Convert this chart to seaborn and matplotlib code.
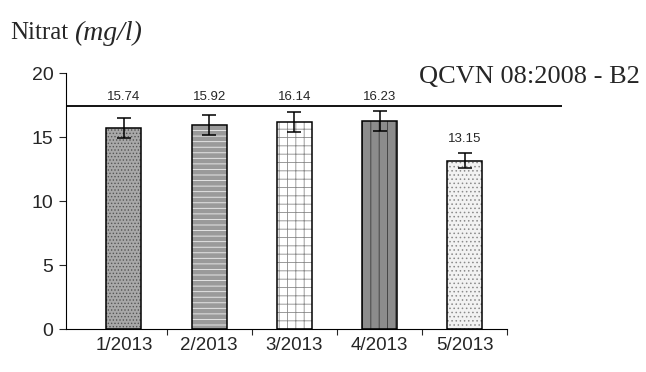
import matplotlib
matplotlib.use("Agg")
import matplotlib.pyplot as plt
from matplotlib.patches import Rectangle
import pandas as pd
import seaborn as sns

# Nitrat theo thang
thang = ["1/2013", "2/2013", "3/2013", "4/2013", "5/2013"]
nitrat = [15.74, 15.92, 16.14, 16.23, 13.15]
sai_so = [0.78, 0.78, 0.78, 0.8, 0.6]
gioi_han = 17.4  # duong QCVN 08:2008 - B2 (theo hinh)

df = pd.DataFrame({"thang": thang, "nitrat": nitrat, "sai_so": sai_so})

sns.set_style("white")
plt.rcParams["font.family"] = ["Liberation Sans", "DejaVu Sans"]
plt.rcParams["hatch.linewidth"] = 0.6

fig = plt.figure(figsize=(6.46, 3.72), dpi=100)
ax = fig.add_axes([66 / 646, 1 - 329 / 372, 496 / 646, 256 / 372])

sns.barplot(data=df, x="thang", y="nitrat", color="white", width=0.41, ax=ax)

# hoa van cho tung cot
kieu = [("#a8a8a8", "#555555", "....."),
        ("#9a9a9a", "#f0f0f0", "---"),
        ("white", "#8a8a8a", "++"),
        ("#8c8c8c", "#3a3a3a", "||"),
        ("#f2f2f2", "#8a8a8a", "....")]
for p, (fc, hc, h) in zip(ax.patches, kieu):
    p.set_facecolor(fc)
    p.set_edgecolor(hc)
    p.set_hatch(h)
    p.set_linewidth(0)
    ax.add_patch(Rectangle((p.get_x(), p.get_y()), p.get_width(), p.get_height(),
                           fill=False, ec="black", lw=1.1, zorder=3))

ax.errorbar(range(len(thang)), nitrat, yerr=sai_so, fmt="none", ecolor="black",
            elinewidth=1.1, capsize=5, capthick=1.1, zorder=4)

ax.axhline(gioi_han, color="black", lw=1.3, zorder=2)

for i, (v, e) in enumerate(zip(nitrat, sai_so)):
    y = v + e + 1.1
    if y > gioi_han - 0.5:
        y = gioi_han + 0.7
    ax.text(i, y, f"{v:.2f}", ha="center", va="center", fontsize=9.5)

ax.set_xlim(-0.68, 5.14)
ax.set_ylim(0, 20)
ax.set_yticks([0, 5, 10, 15, 20])
ax.set_xlabel("")
ax.set_ylabel("")
ax.set_xticks(range(len(thang)))
ax.set_xticklabels(thang)
ax.set_xticks([0.5, 1.5, 2.5, 3.5, 4.5], minor=True)
ax.tick_params(axis="x", which="major", length=0, labelsize=13.5, pad=6)
ax.tick_params(axis="x", which="minor", length=4, width=0.8, direction="out", bottom=True)
ax.tick_params(axis="y", length=5, width=0.8, direction="out", left=True, labelsize=14, pad=4)
for s in ["top", "right"]:
    ax.spines[s].set_visible(False)
ax.spines["bottom"].set_bounds(-0.68, 4.5)
ax.spines["left"].set_color("black")
ax.spines["bottom"].set_color("black")

fig.text(10 / 646, 1 - 33 / 372, "Nitrat", family="Liberation Serif", fontsize=18, va="center")
fig.text(74 / 646, 1 - 33 / 372, "(mg/l)", family="Liberation Serif", style="italic",
         fontsize=20, va="center")
fig.text(640 / 646, 1 - 77 / 372, "QCVN 08:2008 - B2", family="Liberation Serif",
         fontsize=19, ha="right", va="center")

fig.savefig("out.png", dpi=100)
